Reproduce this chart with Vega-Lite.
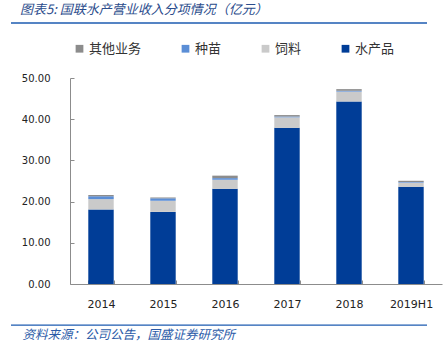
{
  "$schema": "https://vega.github.io/schema/vega-lite/v6.json",
  "width": 372,
  "height": 206,
  "autosize": {"type": "none"},
  "padding": {"left": 70, "top": 78, "right": 2, "bottom": 72},
  "background": "white",
  "config": {"view": {"stroke": null}, "font": "DejaVu Sans"},
  "title": {
    "text": "图表5:  国联水产营业收入分项情况（亿元）",
    "anchor": "start",
    "frame": "group",
    "dx": -50,
    "offset": 5,
    "font": "Noto Sans CJK SC",
    "fontSize": 13,
    "fontStyle": "italic",
    "fontWeight": "normal",
    "color": "#2B4C8C"
  },
  "layer": [
    {
      "data": {
        "values": [
          {"year": "2014", "type": "水产品", "value": 18.1},
          {"year": "2014", "type": "饲料", "value": 2.5},
          {"year": "2014", "type": "种苗", "value": 0.7},
          {"year": "2014", "type": "其他业务", "value": 0.3},
          {"year": "2015", "type": "水产品", "value": 17.5},
          {"year": "2015", "type": "饲料", "value": 2.7},
          {"year": "2015", "type": "种苗", "value": 0.6},
          {"year": "2015", "type": "其他业务", "value": 0.2},
          {"year": "2016", "type": "水产品", "value": 23.1},
          {"year": "2016", "type": "饲料", "value": 2.2},
          {"year": "2016", "type": "种苗", "value": 0.4},
          {"year": "2016", "type": "其他业务", "value": 0.6},
          {"year": "2017", "type": "水产品", "value": 37.9},
          {"year": "2017", "type": "饲料", "value": 2.55},
          {"year": "2017", "type": "种苗", "value": 0.2},
          {"year": "2017", "type": "其他业务", "value": 0.35},
          {"year": "2018", "type": "水产品", "value": 44.3},
          {"year": "2018", "type": "饲料", "value": 2.4},
          {"year": "2018", "type": "种苗", "value": 0.2},
          {"year": "2018", "type": "其他业务", "value": 0.4},
          {"year": "2019H1", "type": "水产品", "value": 23.6},
          {"year": "2019H1", "type": "饲料", "value": 1.0},
          {"year": "2019H1", "type": "种苗", "value": 0.15},
          {"year": "2019H1", "type": "其他业务", "value": 0.3}
        ]
      },
      "transform": [
        {"calculate": "indexof(['水产品','饲料','种苗','其他业务'], datum.type)", "as": "ord"}
      ],
      "mark": {"type": "bar"},
      "encoding": {
        "x": {
          "field": "year",
          "type": "nominal",
          "sort": null,
          "scale": {"paddingInner": 0.59, "paddingOuter": 0.295},
          "axis": {
            "labelAngle": 0,
            "labelFont": "DejaVu Sans",
            "labelFontSize": 11,
            "labelColor": "#222222",
            "labelPadding": 18,
            "domainColor": "#8c8c8c",
            "tickColor": "#8c8c8c",
            "tickBand": "extent",
            "tickSize": -4,
            "title": "资料来源：公司公告，国盛证券研究所",
            "titleFont": "Noto Sans CJK SC",
            "titleFontSize": 12.5,
            "titleFontStyle": "italic",
            "titleFontWeight": "normal",
            "titleColor": "#2B5BA8",
            "titleAnchor": "start",
            "titleAlign": "left",
            "titleBaseline": "middle",
            "titleX": -48,
            "titleY": 50
          }
        },
        "y": {
          "field": "value",
          "type": "quantitative",
          "stack": "zero",
          "scale": {"domain": [0, 50], "nice": false},
          "axis": {
            "values": [0, 10, 20, 30, 40, 50],
            "format": ".2f",
            "title": null,
            "grid": false,
            "labelFont": "DejaVu Sans",
            "labelFontSize": 10,
            "labelColor": "#222222",
            "labelPadding": 24,
            "domainColor": "#8c8c8c",
            "tickColor": "#8c8c8c",
            "tickSize": -4
          }
        },
        "color": {
          "field": "type",
          "type": "nominal",
          "scale": {
            "domain": ["其他业务", "种苗", "饲料", "水产品"],
            "range": ["#8C8C8C", "#5B8ED6", "#CACACA", "#003D97"]
          },
          "legend": {
            "title": null,
            "orient": "none",
            "direction": "horizontal",
            "legendX": 3,
            "legendY": -36,
            "symbolType": "square",
            "symbolSize": 60,
            "symbolStrokeWidth": 0,
            "labelFont": "Noto Sans CJK SC",
            "labelFontSize": 13,
            "labelColor": "#333333",
            "labelOffset": 3,
            "columnPadding": 37
          }
        },
        "order": {"field": "ord", "type": "quantitative"}
      }
    },
    {
      "data": {"values": [{}]},
      "mark": {"type": "rect", "color": "#1C5BB0"},
      "encoding": {
        "x": {"value": -59},
        "x2": {"value": 357},
        "y": {"datum": 63.53},
        "y2": {"datum": 63.17}
      }
    },
    {
      "data": {"values": [{}]},
      "mark": {"type": "rect", "color": "#1C5BB0"},
      "encoding": {
        "x": {"value": -59},
        "x2": {"value": 357},
        "y": {"datum": -9.8},
        "y2": {"datum": -10.16}
      }
    }
  ]
}
